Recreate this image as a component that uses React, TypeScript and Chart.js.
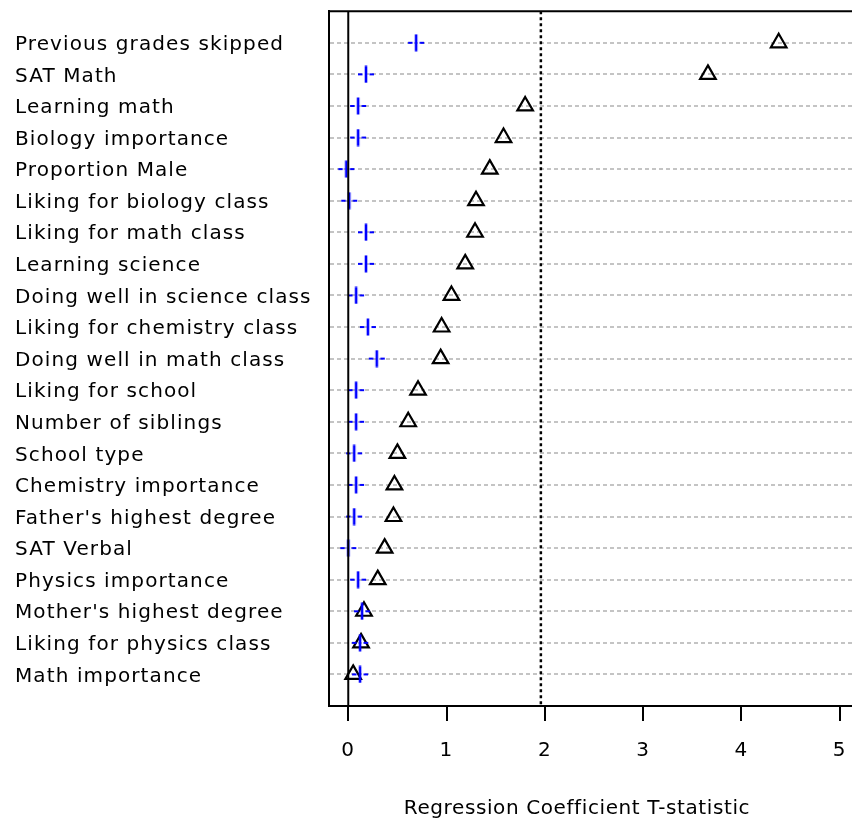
import React, { useEffect, useRef } from "react";
import { Chart, registerables } from "chart.js";

Chart.register(...registerables);

// Predictors, listed top to bottom
const variables = [
  "Previous grades skipped",
  "SAT Math",
  "Learning math",
  "Biology importance",
  "Proportion Male",
  "Liking for biology class",
  "Liking for math class",
  "Learning science",
  "Doing well in science class",
  "Liking for chemistry class",
  "Doing well in math class",
  "Liking for school",
  "Number of siblings",
  "School type",
  "Chemistry importance",
  "Father's highest degree",
  "SAT Verbal",
  "Physics importance",
  "Mother's highest degree",
  "Liking for physics class",
  "Math importance",
];

// Blue crosses
const crossValues = [
  0.69, 0.18, 0.1, 0.1, -0.02, 0.01, 0.18, 0.18, 0.08, 0.2, 0.29,
  0.08, 0.08, 0.06, 0.08, 0.06, 0.0, 0.1, 0.14, 0.12, 0.12,
];

// Open black triangles
const triangleValues = [
  4.38, 3.66, 1.8, 1.58, 1.44, 1.3, 1.29, 1.19, 1.05, 0.95, 0.94,
  0.71, 0.61, 0.5, 0.47, 0.46, 0.37, 0.3, 0.16, 0.13, 0.05,
];

const xTicks = [0, 1, 2, 3, 4, 5];
const X_MIN = -0.196;
const X_MAX = 5.297;
const SIG_T = 1.96;
const X_TITLE = "Regression Coefficient T-statistic";

const FONT_FAMILY = "'DejaVu Sans', 'Liberation Sans', sans-serif";
const FONT_SIZE = 20;

// Blue "+" marker: solid vertical stroke, broken horizontal arm
function makePlusMarker(): HTMLCanvasElement {
  const c = document.createElement("canvas");
  c.width = 20;
  c.height = 18;
  const g = c.getContext("2d")!;
  g.strokeStyle = "#0000ff";
  g.lineWidth = 2.6;
  g.beginPath();
  g.moveTo(10, 0.5);
  g.lineTo(10, 17.5);
  g.stroke();
  g.lineWidth = 2.2;
  g.beginPath();
  g.moveTo(2, 9);
  g.lineTo(6.5, 9);
  g.moveTo(13.5, 9);
  g.lineTo(18, 9);
  g.stroke();
  return c;
}

const textSpacingPlugin = {
  id: "textSpacing",
  beforeDraw(chart: any) {
    (chart.ctx as any).letterSpacing = "1.1px";
  },
};

const frameAndTitlePlugin = {
  id: "frameAndTitle",
  beforeDatasetsDraw(chart: any) {
    const { ctx, chartArea } = chart;
    ctx.save();
    ctx.strokeStyle = "#000";
    ctx.lineWidth = 2;
    ctx.beginPath();
    ctx.moveTo(chartArea.left - 1, chartArea.top);
    ctx.lineTo(chartArea.right, chartArea.top);
    ctx.stroke();
    ctx.restore();
  },
  afterDraw(chart: any) {
    const { ctx, chartArea } = chart;
    ctx.save();
    (ctx as any).letterSpacing = "0.6px";
    ctx.font = `${FONT_SIZE}px ${FONT_FAMILY}`;
    ctx.fillStyle = "#000";
    ctx.textAlign = "center";
    ctx.textBaseline = "middle";
    ctx.fillText(X_TITLE, chartArea.left + 248, chartArea.bottom + 103);
    ctx.restore();
  },
};

export default function App() {
  const ref = useRef<HTMLCanvasElement>(null);

  useEffect(() => {
    const plus = makePlusMarker();
    const font = { family: FONT_FAMILY, size: FONT_SIZE };
    const chart = new Chart(ref.current!, {
      type: "scatter",
      data: {
        datasets: [
          {
            type: "line",
            data: [
              { x: 0, y: 0 },
              { x: 0, y: variables.length + 1 },
            ],
            borderColor: "#000",
            borderWidth: 2,
            pointRadius: 0,
            order: 0,
          } as any,
          {
            type: "line",
            data: [
              { x: SIG_T, y: 0 },
              { x: SIG_T, y: variables.length + 1 },
            ],
            borderColor: "#000",
            borderWidth: 2.5,
            borderDash: [3, 3],
            pointRadius: 0,
            order: 0,
          } as any,
          {
            data: crossValues.map((v, i) => ({ x: v, y: i + 1 })),
            pointStyle: plus,
            pointRadius: 9,
            order: 1,
          },
          {
            data: triangleValues.map((v, i) => ({ x: v, y: i + 1 })),
            pointStyle: "triangle",
            pointRadius: 9,
            borderColor: "#000",
            borderWidth: 2.2,
            backgroundColor: "rgba(0,0,0,0)",
            order: 2,
          },
        ],
      },
      options: {
        animation: false,
        responsive: false,
        devicePixelRatio: 1,
        layout: { padding: { left: 15, top: 10, right: 5, bottom: 0 } },
        plugins: {
          legend: { display: false },
          tooltip: { enabled: false },
        },
        events: [],
        scales: {
          x: {
            type: "linear",
            min: X_MIN,
            max: X_MAX,
            afterBuildTicks: (s: any) => {
              s.ticks = xTicks.map((v) => ({ value: v }));
            },
            afterFit: (s: any) => {
              s.height = 117;
              s.paddingLeft = 0;
              s.paddingRight = 0;
            },
            ticks: {
              font,
              color: "#000",
              padding: 18,
              maxRotation: 0,
              autoSkip: false,
              callback: (v: any) => String(v),
            },
            grid: {
              drawOnChartArea: false,
              drawTicks: true,
              tickLength: 15,
              color: "#000",
              lineWidth: 2,
            },
            border: { display: true, color: "#000", width: 2 },
          },
          y: {
            type: "linear",
            reverse: true,
            min: 0,
            max: variables.length + 1,
            afterBuildTicks: (s: any) => {
              s.ticks = variables.map((_, i) => ({ value: i + 1 }));
            },
            afterFit: (s: any) => {
              s.width = 314;
              s.paddingTop = 0;
              s.paddingBottom = 0;
            },
            ticks: {
              font,
              color: "#000",
              padding: 0,
              crossAlign: "far",
              autoSkip: false,
              labelOffset: 2,
              callback: (v: any) => variables[Math.round(v) - 1] ?? "",
            },
            grid: {
              color: "#c4c4c4",
              lineWidth: 2,
              drawTicks: false,
            },
            border: { display: true, color: "#000", width: 2, dash: [4, 3] },
          },
        },
      },
      plugins: [textSpacingPlugin, frameAndTitlePlugin],
    } as any);
    return () => chart.destroy();
  }, []);

  return (
    <div
      style={{
        position: "absolute",
        left: 0,
        top: 0,
        width: 852,
        height: 823,
        overflow: "hidden",
        background: "#fff",
      }}
    >
      <canvas
        ref={ref}
        width={880}
        height={823}
        style={{ display: "block", width: 880, height: 823 }}
      />
    </div>
  );
}
